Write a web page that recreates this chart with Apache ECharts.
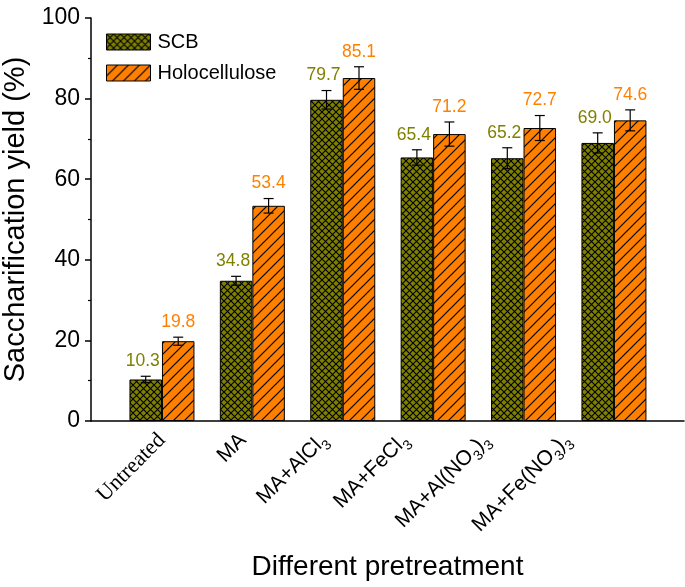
<!DOCTYPE html>
<html><head><meta charset="utf-8">
<script src="https://cdn.jsdelivr.net/npm/echarts@6/dist/echarts.min.js"></script>
<style>html,body{margin:0;padding:0;background:#fff}#c{width:685px;height:587px}</style>
</head><body><div id="c"></div>
<script>
var categories = ['Untreated', 'MA', 'MA+AlCl3', 'MA+FeCl3', 'MA+Al(NO3)3', 'MA+Fe(NO3)3'];
var scbValues = [10.3, 34.8, 79.7, 65.4, 65.2, 69.0];
var scbErrors = [0.8, 1.1, 2.3, 1.9, 2.6, 2.5];
var holoValues = [19.8, 53.4, 85.1, 71.2, 72.7, 74.6];
var holoErrors = [1.0, 1.8, 2.8, 3.0, 3.1, 2.6];
var yTicks = [0, 20, 40, 60, 80, 100];

// rich-text versions of the category labels (subscripts)
var richLabels = [
  '{serif|Untreated}',
  '{n|MA}',
  '{n|MA+AlCl}{s|3}',
  '{n|MA+FeCl}{s|3}',
  '{n|MA+Al(NO}{s|3}{n|)}{s|3}',
  '{n|MA+Fe(NO}{s|3}{n|)}{s|3}'
];

function makePattern(kind) {
  var cv = document.createElement('canvas');
  var ctx;
  if (kind === 'cross') {
    var p = 7;
    cv.width = p; cv.height = p;
    ctx = cv.getContext('2d');
    ctx.fillStyle = '#808000';
    ctx.fillRect(0, 0, p, p);
    ctx.strokeStyle = '#000';
    ctx.lineWidth = 1.1;
    ctx.beginPath();
    ctx.moveTo(-1, -1); ctx.lineTo(p + 1, p + 1);
    ctx.moveTo(-1, p + 1); ctx.lineTo(p + 1, -1);
    ctx.stroke();
  } else {
    var q = 11;
    cv.width = q; cv.height = q;
    ctx = cv.getContext('2d');
    ctx.fillStyle = '#FF8000';
    ctx.fillRect(0, 0, q, q);
    ctx.strokeStyle = '#000';
    ctx.lineWidth = 1.2;
    ctx.beginPath();
    ctx.moveTo(-1, q + 1); ctx.lineTo(q + 1, -1);
    ctx.moveTo(-2, 2); ctx.lineTo(2, -2);
    ctx.moveTo(q - 2, q + 2); ctx.lineTo(q + 2, q - 2);
    ctx.stroke();
  }
  return { image: cv, repeat: 'repeat' };
}

var BAR_W = 32.5;
var scbData = scbValues.map(function (v, i) { return [i, v]; });
var holoData = holoValues.map(function (v, i) { return [i, v]; });
var errData = [];
scbValues.forEach(function (v, i) { errData.push([i, v, scbErrors[i], 0]); });
holoValues.forEach(function (v, i) { errData.push([i, v, holoErrors[i], 1]); });

var chart = echarts.init(document.getElementById('c'));
chart.setOption({
  animation: false,
  grid: { left: 91, right: 1, top: 18, bottom: 166, outerBoundsMode: 'none', containLabel: false },
  legend: {
    data: ['SCB', 'Holocellulose'],
    orient: 'vertical',
    left: 106, top: 32,
    padding: 0,
    itemWidth: 44, itemHeight: 16, itemGap: 11,
    icon: 'rect',
    itemStyle: { borderColor: '#000', borderWidth: 1 },
    textStyle: { fontFamily: 'Arial, Liberation Sans', fontSize: 20, color: '#000', padding: [0, 0, 0, 2] }
  },
  xAxis: [
    {
      type: 'value',
      position: 'bottom',
      min: -0.785, max: 5.775,
      name: 'Different pretreatment',
      nameLocation: 'middle',
      nameGap: 132,
      nameTextStyle: { fontFamily: 'Arial, Liberation Sans', fontSize: 28, color: '#000' },
      splitLine: { show: false },
      axisTick: { show: false },
      axisLabel: { show: false },
      axisLine: { onZero: false, lineStyle: { color: '#000', width: 1.5 } }
    },
    {
      // label-only axis: the reference's rotated labels sit on a tighter spacing than the bars
      type: 'value',
      position: 'bottom',
      min: -0.875, max: 6.437,
      splitLine: { show: false },
      axisTick: { show: false },
      axisLine: { show: false, onZero: false },
      axisLabel: {
        customValues: [0, 1, 2, 3, 4, 5],
        rotate: 45,
        margin: 16,
        color: '#000',
        formatter: function (v) { return richLabels[Math.round(v)]; },
        rich: {
          serif: { fontFamily: 'Liberation Serif, Times New Roman, serif', fontSize: 22, color: '#000', lineHeight: 30 },
          n: { fontFamily: 'Arial, Liberation Sans', fontSize: 21, color: '#000', lineHeight: 30 },
          s: { fontFamily: 'Arial, Liberation Sans', fontSize: 14, color: '#000', lineHeight: 14, verticalAlign: 'bottom' }
        }
      }
    }
  ],
  yAxis: {
    type: 'value',
    min: 0, max: 100, interval: 20,
    name: 'Saccharification yield (%)',
    nameLocation: 'middle',
    nameGap: 55,
    nameTextStyle: { fontFamily: 'Arial, Liberation Sans', fontSize: 29, color: '#000' },
    splitLine: { show: false },
    axisLine: { show: true, onZero: false, lineStyle: { color: '#000', width: 1.5 } },
    axisTick: { show: true, inside: false, length: 6, lineStyle: { color: '#000', width: 1.5 } },
    minorTick: { show: true, splitNumber: 2, length: 3, lineStyle: { color: '#000', width: 1.2 } },
    axisLabel: {
      color: '#000', fontFamily: 'Arial, Liberation Sans', fontSize: 23, margin: 11,
      formatter: function (v) { return yTicks.indexOf(v) >= 0 ? String(v) : ''; }
    }
  },
  series: [
    {
      name: 'SCB', type: 'bar', xAxisIndex: 0, data: scbData, barWidth: BAR_W, barGap: '0%',
      itemStyle: { color: makePattern('cross'), borderColor: '#000', borderWidth: 1 }
    },
    {
      name: 'Holocellulose', type: 'bar', xAxisIndex: 0, data: holoData, barWidth: BAR_W, barGap: '0%',
      itemStyle: { color: makePattern('hatch'), borderColor: '#000', borderWidth: 1 }
    },
    {
      type: 'custom',
      xAxisIndex: 0,
      data: errData,
      z: 10,
      renderItem: function (params, api) {
        var x = api.value(0), v = api.value(1), e = api.value(2), s = api.value(3);
        var off = s === 0 ? -BAR_W / 2 : BAR_W / 2;
        var top = api.coord([x, v + e]);
        var bot = api.coord([x, v - e]);
        var cx = top[0] + off;
        var cap = 5;
        var st = { stroke: '#000', lineWidth: 1.2 };
        return {
          type: 'group',
          children: [
            { type: 'line', shape: { x1: cx, y1: top[1], x2: cx, y2: bot[1] }, style: st },
            { type: 'line', shape: { x1: cx - cap, y1: top[1], x2: cx + cap, y2: top[1] }, style: st },
            { type: 'line', shape: { x1: cx - cap, y1: bot[1], x2: cx + cap, y2: bot[1] }, style: st },
            {
              type: 'text',
              style: {
                x: cx - (s === 0 ? 3 : 0), y: top[1] - 6,
                text: v.toFixed(1),
                align: 'center', verticalAlign: 'bottom',
                fill: s === 0 ? '#808000' : '#FF8000',
                font: '17.5px Arial, Liberation Sans'
              }
            }
          ]
        };
      }
    }
  ]
});
</script>
</body></html>
